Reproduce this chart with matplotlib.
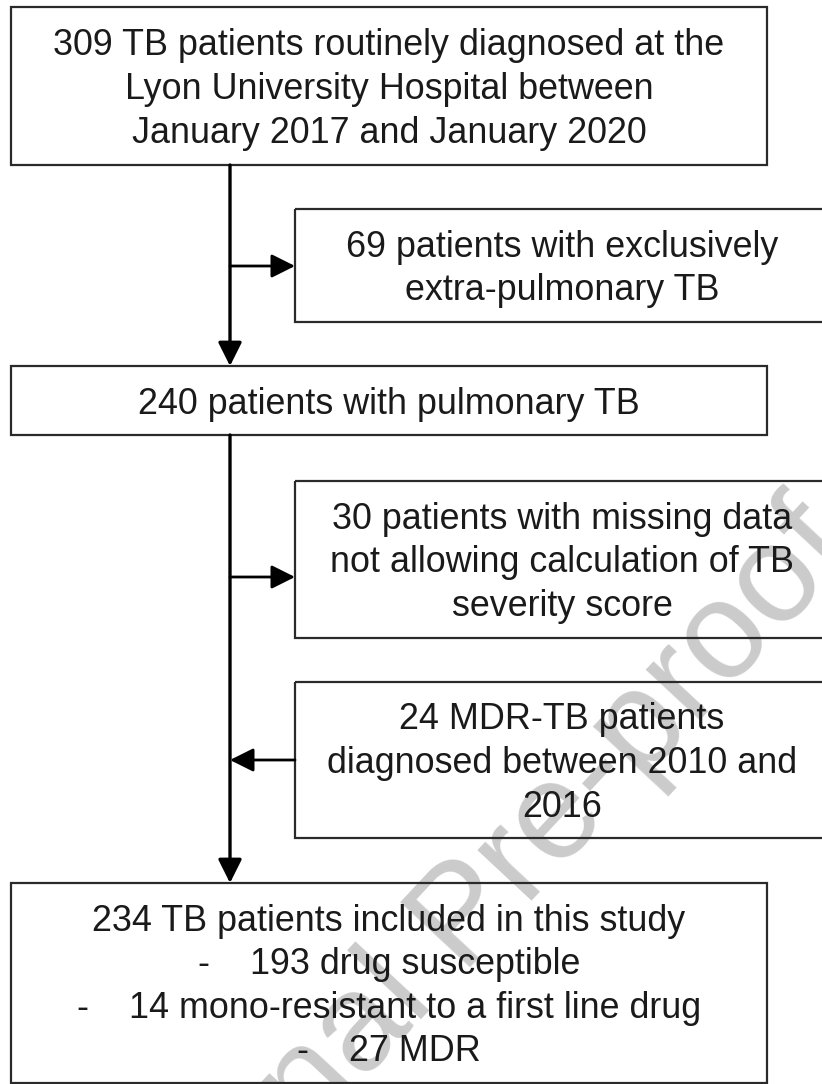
import matplotlib
matplotlib.use("Agg")
import matplotlib.pyplot as plt
from matplotlib.patches import Rectangle

plt.rcParams['font.family'] = ['Liberation Sans', 'DejaVu Sans']

# box texts of the flow chart
main_boxes = [
    "309 TB patients routinely diagnosed at the\nLyon University Hospital between\nJanuary 2017 and January 2020",
    "240 patients with pulmonary TB",
    "234 TB patients included in this study\n-    193 drug susceptible\n-    14 mono-resistant to a first line drug\n-    27 MDR",
]
side_boxes = [
    "69 patients with exclusively\nextra-pulmonary TB",
    "30 patients with missing data\nnot allowing calculation of TB\nseverity score",
    "24 MDR-TB patients\ndiagnosed between 2010 and\n2016",
]
side_direction = ["out", "out", "in"]
watermark = "Journal Pre-proof"

# layout in pixels (y going down)
main_pos = [(11, 7, 767, 165), (11, 366, 767, 435), (11, 883, 767, 1083)]
side_pos = [(295, 209, 829, 322), (295, 481, 829, 638), (295, 682, 829, 838)]
side_arrow_y = [266, 577, 760]
spine_x = 230

TXT = '#1a1a1a'
EDGE = '#2a2a2a'
FS = 25.8


def box_text(ax, label, x0, y0, x1, y1):
    ax.text((x0 + x1) / 2, (y0 + y1) / 2 + 3.5, label, ha='center',
            va='center', fontsize=FS, color=TXT, linespacing=1.32,
            zorder=3)


def plot_flow():
    fig = plt.figure(figsize=(8.22, 10.84), dpi=100)
    ax = fig.add_axes([0, 0, 1, 1])
    ax.set_xlim(0, 822)
    ax.set_ylim(1084, 0)
    ax.axis('off')

    # watermark behind everything
    ax.text(465, 919, watermark, fontsize=100, color='#cbcbcb',
            rotation=47, ha='center', va='center', zorder=1,
            rotation_mode='anchor')

    for label, (x0, y0, x1, y1) in zip(main_boxes, main_pos):
        ax.add_patch(Rectangle((x0, y0), x1 - x0, y1 - y0, fill=False,
                               ec=EDGE, lw=1.6, zorder=2))
        box_text(ax, label, x0, y0, x1, y1)

    for label, (x0, y0, x1, y1) in zip(side_boxes, side_pos):
        ax.add_patch(Rectangle((x0, y0), x1 - x0, y1 - y0, fill=False,
                               ec=EDGE, lw=1.6, zorder=2, clip_on=False))
        box_text(ax, label, x0, y0, x1, y1)

    # vertical spine with arrows into main boxes
    head = dict(arrowstyle='-|>,head_length=0.72,head_width=0.36',
                lw=2.4, color='black', shrinkA=0, shrinkB=0,
                mutation_scale=20)
    ax.annotate('', xy=(spine_x, main_pos[1][1]),
                xytext=(spine_x, main_pos[0][3]), arrowprops=head, zorder=4)
    ax.annotate('', xy=(spine_x, main_pos[2][1]),
                xytext=(spine_x, main_pos[1][3]), arrowprops=head, zorder=4)

    side = dict(head, lw=2.0)
    for y, d, (x0, _, _, _) in zip(side_arrow_y, side_direction, side_pos):
        if d == "out":
            ax.annotate('', xy=(x0, y), xytext=(spine_x, y),
                        arrowprops=side, zorder=4)
        else:
            ax.annotate('', xy=(spine_x, y), xytext=(x0, y),
                        arrowprops=side, zorder=4)

    fig.savefig('out.png', dpi=100)


if __name__ == "__main__":
    plot_flow()
